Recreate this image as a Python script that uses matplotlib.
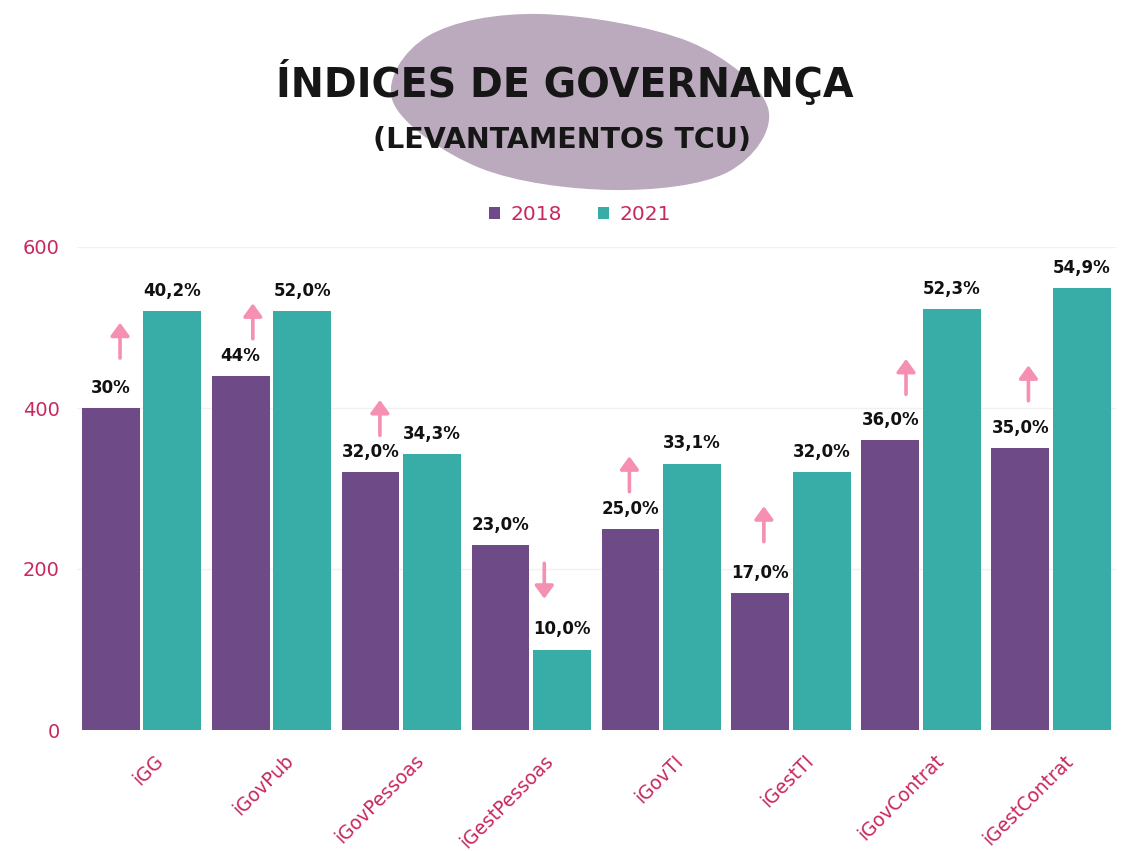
import numpy as np
import matplotlib
matplotlib.use('Agg')
import matplotlib.pyplot as plt
from matplotlib.path import Path
from matplotlib.patches import PathPatch

## Data

categories = ['iGG', 'iGovPub', 'iGovPessoas', 'iGestPessoas',
              'iGovTI', 'iGestTI', 'iGovContrat', 'iGestContrat']
series = ['2018', '2021']
values_2018 = [400, 440, 320, 230, 250, 170, 360, 350]
values_2021 = [520, 520, 343, 100, 331, 320, 523, 549]
labels_2018 = ['30%', '44%', '32,0%', '23,0%', '25,0%', '17,0%', '36,0%', '35,0%']
labels_2021 = ['40,2%', '52,0%', '34,3%', '10,0%', '33,1%', '32,0%', '52,3%', '54,9%']
yticks = [0, 200, 400, 600]

## Layout / style

c2018 = '#6e4a86'
c2021 = '#38ada8'
pink = '#c8285f'
arrow_col = '#f590b2'
blob_col = '#bba9be'
bar_w = 0.445
off = 0.237
label_shift = 0.15   # x tick labels sit a bit right of the group centre
# arrow anchor (x in category units, lower end in data units)
arrow_x = [-0.165, 0.857, 1.835, 3.10, 3.755, 4.79, 5.884, 6.826]
arrow_low = [462, 486, 366, 163, 296, 234, 417, 409]
arrow_len = 44

W, H = 1122, 851
fig = plt.figure(figsize=(W / 100, H / 100), dpi=100)
ax = fig.add_axes([76.5 / W, 121 / H, (1116 - 76.5) / W, 483 / H])

x = np.arange(len(categories))
b1 = ax.bar(x - off, values_2018, bar_w, color=c2018, label=series[0], zorder=2)
b2 = ax.bar(x + off, values_2021, bar_w, color=c2021, label=series[1], zorder=2)

for bars, labs in ((b1, labels_2018), (b2, labels_2021)):
    for r, t in zip(bars, labs):
        ax.annotate(t, (r.get_x() + r.get_width() / 2, r.get_height()),
                    xytext=(0, 8), textcoords='offset points',
                    ha='center', va='bottom', fontsize=12,
                    fontweight='bold', color='#111111', family='DejaVu Sans')

for i, (ax_x, low) in enumerate(zip(arrow_x, arrow_low)):
    up = values_2021[i] > values_2018[i]
    tail, head = (low, low + arrow_len) if up else (low + arrow_len, low)
    ax.annotate('', xy=(ax_x, head), xytext=(ax_x, tail),
                arrowprops=dict(arrowstyle='-|>,head_width=0.4,head_length=0.55',
                                lw=2.6, color=arrow_col, shrinkA=0, shrinkB=0,
                                mutation_scale=14),
                zorder=3)

ax.set_xlim(-0.5, len(categories) - 0.5)
ax.set_ylim(0, 600)
ax.set_yticks(yticks)
ax.set_xticks(x + label_shift)
ax.set_xticklabels(categories, rotation=45, ha='right', va='center',
                   rotation_mode='anchor', fontsize=13.5, color=pink,
                   family='DejaVu Sans')
ax.tick_params(axis='x', length=0, pad=20)
ax.tick_params(axis='y', length=0, pad=12, labelsize=14, labelcolor=pink)
for lab in ax.get_yticklabels():
    lab.set_family('DejaVu Sans')
ax.grid(axis='y', color='#f1f1f1', lw=1)
ax.grid(axis='x', visible=False)
ax.set_axisbelow(True)
for s in ax.spines.values():
    s.set_visible(False)

# blob behind the title
pts = [(540, 14), (690, 42), (768, 108), (728, 172), (612, 190),
       (480, 168), (393, 102), (428, 36)]
pts = np.array([(px / W, 1 - py / H) for px, py in pts])
n = len(pts)
verts = [pts[0]]
codes = [Path.MOVETO]
for k in range(n):
    p0, p1, p2, p3 = pts[k - 1], pts[k], pts[(k + 1) % n], pts[(k + 2) % n]
    c1 = p1 + (p2 - p0) / 6
    c2 = p2 - (p3 - p1) / 6
    verts += [c1, c2, p2]
    codes += [Path.CURVE4] * 3
fig.patches.append(PathPatch(Path(verts, codes), transform=fig.transFigure,
                             facecolor=blob_col, edgecolor='none', zorder=0))

fig.text(565 / W, 1 - 82 / H, 'ÍNDICES DE GOVERNANÇA', ha='center', va='center',
         fontsize=28.5, fontweight='bold', family='DejaVu Sans',
         color='#161616')
fig.text(562 / W, 1 - 140 / H, '(LEVANTAMENTOS TCU)', ha='center', va='center',
         fontsize=20.5, fontweight='bold', family='DejaVu Sans',
         color='#161616')

fig.legend(handles=[b1, b2], loc='center', bbox_to_anchor=(580 / W, 1 - 215 / H),
           ncol=2, frameon=False, fontsize=14.5, labelcolor=pink,
           handlelength=0.55, handleheight=0.55, handletextpad=0.5,
           columnspacing=1.8)

fig.savefig('out.png', dpi=100)
